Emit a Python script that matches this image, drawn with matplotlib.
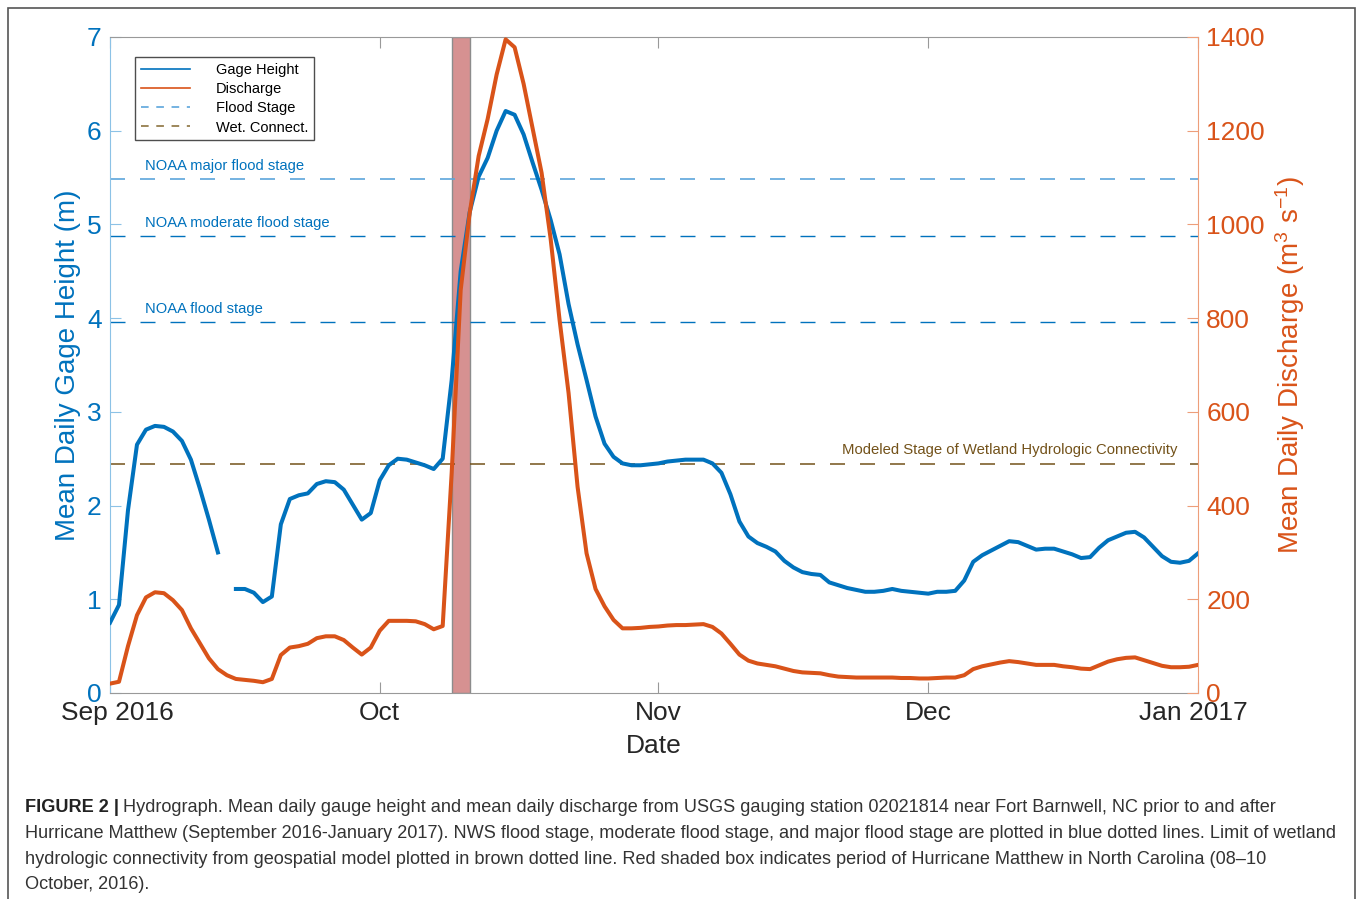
import numpy as np
import pandas as pd
import matplotlib
matplotlib.use("Agg")
import matplotlib.pyplot as plt
from matplotlib.lines import Line2D
from matplotlib.patches import Rectangle
from matplotlib.transforms import ScaledTranslation

plt.rcParams["font.family"] = ["Liberation Sans", "DejaVu Sans"]
plt.rcParams["mathtext.fontset"] = "custom"
plt.rcParams["mathtext.rm"] = "Liberation Sans"
plt.rcParams["lines.scale_dashes"] = False

# daily means, 1 Sep - 31 Dec 2016 (USGS 02021814)
dates = pd.date_range("2016-09-01", "2016-12-31", freq="D")

gage_height = [
    0.75, 0.94, 1.95, 2.65, 2.81, 2.85, 2.84, 2.79, 2.69, 2.49,
    2.18, 1.85, 1.50, np.nan, 1.11, 1.11, 1.07, 0.97, 1.03, 1.80,
    2.07, 2.11, 2.13, 2.23, 2.26, 2.25, 2.17, 2.01, 1.85, 1.92,
    2.27, 2.43, 2.50, 2.49, 2.46, 2.43, 2.39, 2.50, 3.34, 4.50,
    5.13, 5.51, 5.71, 6.00, 6.21, 6.17, 5.96, 5.66, 5.37, 5.05,
    4.68, 4.15, 3.72, 3.34, 2.95, 2.66, 2.52, 2.45, 2.43, 2.43,
    2.44, 2.45, 2.47, 2.48, 2.49, 2.49, 2.49, 2.45, 2.35, 2.12,
    1.83, 1.67, 1.60, 1.56, 1.51, 1.41, 1.34, 1.29, 1.27, 1.26,
    1.18, 1.15, 1.12, 1.10, 1.08, 1.08, 1.09, 1.11, 1.09, 1.08,
    1.07, 1.06, 1.08, 1.08, 1.09, 1.20, 1.40, 1.47, 1.52, 1.57,
    1.62, 1.61, 1.57, 1.53, 1.54, 1.54, 1.51, 1.48, 1.44, 1.45,
    1.55, 1.63, 1.67, 1.71, 1.72, 1.66, 1.56, 1.46, 1.40, 1.39,
    1.41, 1.49,
]

discharge = [
    20, 24, 100, 166, 204, 215, 213, 198, 177, 138,
    106, 74, 51, 38, 30, 28, 26, 23, 30, 81,
    97, 100, 105, 117, 121, 121, 113, 97, 82, 97,
    133, 154, 154, 154, 153, 147, 136, 143, 470, 860,
    1024, 1146, 1225, 1320, 1395, 1378, 1300, 1205, 1110, 970,
    796, 640, 440, 298, 222, 185, 156, 138, 138, 139,
    141, 142, 144, 145, 145, 146, 147, 141, 127, 105,
    82, 69, 63, 60, 57, 52, 47, 44, 43, 42,
    38, 35, 34, 33, 33, 33, 33, 33, 32, 32,
    31, 31, 32, 33, 33, 38, 51, 57, 61, 65,
    68, 66, 63, 60, 60, 60, 57, 55, 52, 51,
    59, 67, 72, 75, 76, 70, 64, 58, 55, 55,
    56, 60,
]

# NOAA stages and modelled connectivity stage (m)
flood_stage = 3.96
moderate_stage = 4.88
major_stage = 5.49
wet_connect = 2.44

storm_start = pd.Timestamp("2016-10-09")
storm_end = pd.Timestamp("2016-10-11")

tick_dates = pd.to_datetime(["2016-09-01", "2016-10-01", "2016-11-01",
                             "2016-12-01", "2016-12-31"])
tick_labels = ["Sep 2016", "Oct", "Nov", "Dec", "Jan 2017"]

blue = (0, 0.447, 0.741)
orange = (0.85, 0.325, 0.098)
light_blue = (0.36, 0.65, 0.86)
brown = (0.45, 0.32, 0.10)
light_brown = (0.55, 0.45, 0.25)

W, H = 1362, 899
fig = plt.figure(figsize=(W / 100, H / 100), dpi=100)
ax = fig.add_axes([110 / W, 1 - 693 / H, 1088 / W, 656 / H])
ax2 = ax.twinx()

ax.axvspan(storm_start, storm_end, facecolor=(0.84, 0.57, 0.57),
           edgecolor="#8c8c8c", lw=1.0, zorder=1)

dash = (0, (10.8, 10.8))
ax.axhline(major_stage, color=light_blue, lw=1.2, ls=dash, zorder=2)
ax.axhline(moderate_stage, color=blue, lw=1.0, ls=dash, zorder=2)
ax.axhline(flood_stage, color=blue, lw=1.0, ls=dash, zorder=2)
ax.axhline(wet_connect, color=brown, lw=1.1, ls=dash, zorder=2)

ax.plot(dates, gage_height, color=blue, lw=2.9, zorder=3)
ax2.plot(dates, discharge, color=orange, lw=2.9, zorder=3)

for val, txt in [(major_stage, "NOAA major flood stage"),
                 (moderate_stage, "NOAA moderate flood stage"),
                 (flood_stage, "NOAA flood stage")]:
    ax.annotate(txt, xy=(0.032, val), xycoords=("axes fraction", "data"),
                xytext=(0, 4), textcoords="offset points",
                ha="left", va="bottom", fontsize=10.6, color=blue)
ax.annotate("Modeled Stage of Wetland Hydrologic Connectivity",
            xy=(0.981, wet_connect), xycoords=("axes fraction", "data"),
            xytext=(0, 5), textcoords="offset points",
            ha="right", va="bottom", fontsize=10.7, color=brown)

ax.set_xlim(dates[0], dates[-1])
ax.set_ylim(0, 7)
ax2.set_ylim(0, 1400)
ax.set_yticks(range(0, 8))
ax2.set_yticks(range(0, 1401, 200))
ax.set_xticks(tick_dates)
ax.set_xticklabels(tick_labels)

spine_blue = (0.55, 0.76, 0.9)
spine_orange = (0.93, 0.62, 0.48)
spine_gray = (0.6, 0.6, 0.6)
ax.spines["right"].set_visible(False)
for s in ["left", "top", "bottom"]:
    ax2.spines[s].set_visible(False)
ax.spines["left"].set_color(spine_blue)
ax.spines["top"].set_color(spine_gray)
ax.spines["bottom"].set_color(spine_gray)
ax2.spines["right"].set_color(spine_orange)

ax.tick_params(axis="x", direction="in", length=8, width=0.8, color=spine_gray,
               top=True, labelsize=19, labelcolor="#262626", pad=6)
ax.tick_params(axis="y", direction="in", length=8, width=0.8, color=spine_blue,
               labelsize=19, labelcolor=blue, pad=6)
ax2.tick_params(axis="y", direction="in", length=8, width=0.8, color=spine_orange,
                labelsize=19, labelcolor=orange, pad=6)

ax.set_xlabel("Date", fontsize=19, color="#262626")
ax.xaxis.set_label_coords(0.5, -0.062)
ax.set_ylabel("Mean Daily Gage Height (m)", fontsize=20, color=blue)
ax.yaxis.set_label_coords(-0.027, 0.5)
ax2.set_ylabel(r"Mean Daily Discharge (m$\mathregular{^3}$ s$\mathregular{^{-1}}$)",
               fontsize=20, color=orange)
ax2.yaxis.set_label_coords(1.069, 0.5)

# end labels sit slightly inside the axis edges
labels = ax.get_xticklabels()
labels[0].set_transform(labels[0].get_transform()
                        + ScaledTranslation(7.5 / 100, 0, fig.dpi_scale_trans))
labels[-1].set_transform(labels[-1].get_transform()
                         + ScaledTranslation(-5 / 100, 0, fig.dpi_scale_trans))

handles = [
    Line2D([], [], color=blue, lw=1.2),
    Line2D([], [], color=orange, lw=1.2),
    Line2D([], [], color=light_blue, lw=1.2, ls=(0, (5.5, 5.5))),
    Line2D([], [], color=light_brown, lw=1.2, ls=(0, (5.5, 5.5))),
]
leg = ax2.legend(handles, ["Gage Height", "Discharge", "Flood Stage", "Wet. Connect."],
                 loc="upper left", bbox_to_anchor=(0.023, 0.9695),
                 fontsize=10.5, frameon=True, fancybox=False, shadow=False,
                 handlelength=3.4, handletextpad=1.75, labelspacing=0.36,
                 borderpad=0.4, borderaxespad=0)
leg.get_frame().set_edgecolor("#222222")
leg.get_frame().set_linewidth(1.0)

# figure frame and caption
fig.add_artist(Rectangle((8 / W, -0.05), 1347 / W, 1.05 - 8 / H, transform=fig.transFigure,
                         fill=False, edgecolor="#555555", lw=1.2))

cap_color = "#333333"
cap_size = 13.1
head = fig.text(25 / W, 1 - 812 / H, "FIGURE 2 |", fontsize=cap_size,
                fontweight="bold", color="#222222", va="baseline")
ax.annotate("Hydrograph. Mean daily gauge height and mean daily discharge from USGS gauging "
            "station 02021814 near Fort Barnwell, NC prior to and after",
            xy=(1, 0), xycoords=head, xytext=(3, 0), textcoords="offset points",
            va="bottom", ha="left", fontsize=cap_size, color=cap_color,
            annotation_clip=False)
caption_lines = [
    "Hurricane Matthew (September 2016-January 2017). NWS flood stage, moderate flood stage, "
    "and major flood stage are plotted in blue dotted lines. Limit of wetland",
    "hydrologic connectivity from geospatial model plotted in brown dotted line. Red shaded "
    "box indicates period of Hurricane Matthew in North Carolina (08\u201310",
    "October, 2016).",
]
for i, line in enumerate(caption_lines):
    fig.text(25 / W, 1 - (838 + 25.5 * i) / H, line, fontsize=cap_size,
             color=cap_color, va="baseline")

fig.savefig("out.png", dpi=100)
